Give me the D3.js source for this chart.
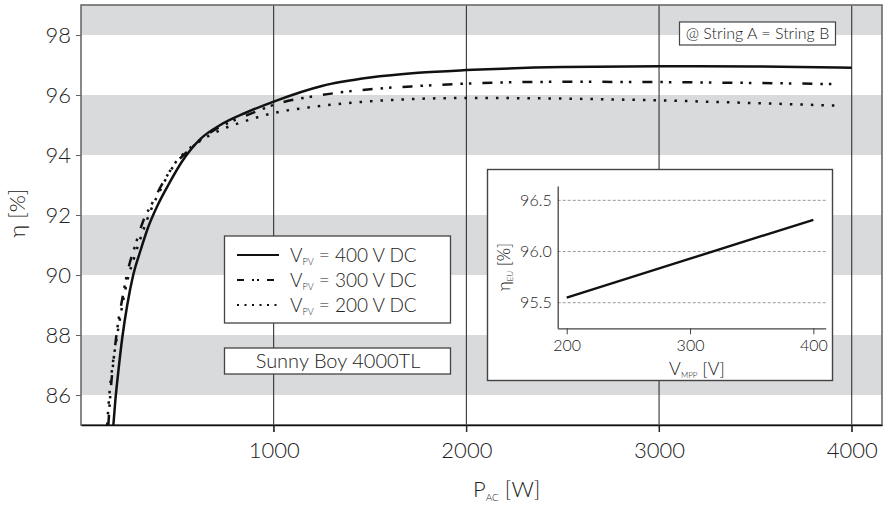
<!DOCTYPE html>
<html>
<head>
<meta charset="utf-8">
<script src="https://cdn.jsdelivr.net/npm/d3@7"></script>
<style>
  body { margin: 0; background: #fff; }
  text { font-family: Lato, "Open Sans", sans-serif; font-weight: 300; fill: #222; white-space: pre; }
</style>
</head>
<body>
<div id="chart"></div>
<script>
// main chart data, P_AC in W, efficiency in %
const pac400 = [168, 178, 194, 214, 240, 271, 308, 349, 396, 453, 526, 619, 723, 852, 1000, 1250, 1500, 1750, 2000, 2500, 3000, 3500, 4000];
const eta400 = [85.0, 85.8, 86.8, 87.9, 89.0, 90.0, 90.8, 91.6, 92.3, 93.0, 93.8, 94.53, 95.0, 95.4, 95.78, 96.3, 96.58, 96.74, 96.83, 96.93, 96.96, 96.95, 96.91];

const pac300 = [142, 152, 168, 188, 214, 245, 282, 323, 370, 427, 489, 567, 660, 764, 878, 1000, 1250, 1500, 1750, 2000, 2500, 3000, 3500, 3950];
const eta300 = [85.0, 86.0, 87.1, 88.2, 89.2, 90.2, 91.0, 91.8, 92.4, 93.1, 93.7, 94.2, 94.7, 95.07, 95.37, 95.67, 96.0, 96.19, 96.3, 96.38, 96.44, 96.43, 96.4, 96.36];

const pac200 = [136, 147, 162, 183, 209, 240, 277, 318, 365, 417, 474, 541, 619, 723, 852, 1000, 1200, 1350, 1500, 1700, 2000, 2500, 3000, 3500, 3950];
const eta200 = [85.0, 86.0, 86.9, 87.8, 88.8, 89.8, 90.6, 91.4, 92.2, 92.9, 93.6, 94.1, 94.47, 94.83, 95.13, 95.4, 95.6, 95.71, 95.79, 95.86, 95.9, 95.88, 95.82, 95.73, 95.64];

const seriesNames = ['400', '300', '200'];
const xTicks = [1000, 2000, 3000, 4000];
const yTicks = [86, 88, 90, 92, 94, 96, 98];
const bandLo = [86, 90, 94, 98];
const bandHi = [88, 92, 96, 99];

// inset: euro efficiency over MPP voltage
const vMpp = [200, 300, 400];
const etaEu = [95.55, 95.93, 96.31];
const insetXTicks = [200, 300, 400];
const insetYTicks = [95.5, 96.0, 96.5];

const W = 888, H = 507;
const svg = d3.select('#chart').append('svg')
    .attr('width', W)
    .attr('height', H);

const x = d3.scaleLinear().domain([0, 4157]).range([81, 882]);
const y = d3.scaleLinear().domain([85, 99]).range([425, 5]);

// grey bands
svg.selectAll('.band')
    .data(bandLo)
    .enter()
    .append('rect')
    .attr('x', x(0))
    .attr('width', x.range()[1] - x(0))
    .attr('y', (d, i) => y(bandHi[i]))
    .attr('height', (d, i) => y(d) - y(bandHi[i]))
    .attr('fill', '#d9dadc');

// vertical grid lines, running a bit below the axis
svg.selectAll('.vgrid')
    .data(xTicks)
    .enter()
    .append('line')
    .attr('x1', d => x(d))
    .attr('x2', d => x(d))
    .attr('y1', y(99))
    .attr('y2', y(85) + 7)
    .attr('stroke', '#222')
    .attr('stroke-width', 1);

// frame
svg.append('rect')
    .attr('x', x(0))
    .attr('y', y(99))
    .attr('width', x.range()[1] - x(0))
    .attr('height', y(85) - y(99))
    .attr('fill', 'none')
    .attr('stroke', '#6a6a6a')
    .attr('stroke-width', 1.6);

// Y axis
const yAxis = svg.append('g')
    .attr('transform', `translate(${x(0)},0)`)
    .call(d3.axisLeft(y).tickValues(yTicks).tickSize(5).tickPadding(5).tickSizeOuter(0));
yAxis.select('.domain').remove();
yAxis.selectAll('line').attr('stroke', '#666');
yAxis.selectAll('text').style('font-size', '22px').attr('fill', '#222');

// X axis
const xAxis = svg.append('g')
    .attr('transform', `translate(0,${y(85)})`)
    .call(d3.axisBottom(x).tickValues(xTicks).tickFormat(d3.format('d')).tickSize(7).tickPadding(10).tickSizeOuter(0));
xAxis.select('.domain').attr('stroke', '#111').attr('stroke-width', 1.6);
xAxis.selectAll('line').attr('stroke', '#222');
xAxis.selectAll('text').style('font-size', '22px').attr('fill', '#222');

// axis titles
svg.append('text')
    .attr('transform', 'translate(25,213) rotate(-90)')
    .attr('text-anchor', 'middle')
    .style('font-size', '22px')
    .text('η [%]');

const xTitle = svg.append('text')
    .attr('x', 473)
    .attr('y', 497)
    .style('font-size', '22px');
xTitle.append('tspan').text('P');
xTitle.append('tspan').attr('dy', 4).style('font-size', '10px').text('AC');
xTitle.append('tspan').attr('dy', -4).text(' [W]');

// curves
const styles = {
    '400': {dash: null},
    '300': {dash: '10,8,2.5,6,2.5,11'},
    '200': {dash: '2.5,8'}
};
const seriesData = {
    '400': pac400.map((p, i) => [p, eta400[i]]),
    '300': pac300.map((p, i) => [p, eta300[i]]),
    '200': pac200.map((p, i) => [p, eta200[i]])
};

svg.append('clipPath')
    .attr('id', 'plotclip')
    .append('rect')
    .attr('x', x(0))
    .attr('y', y(99))
    .attr('width', x.range()[1] - x(0))
    .attr('height', y(85) - y(99));

const line = d3.line()
    .x(d => x(d[0]))
    .y(d => y(d[1]))
    .curve(d3.curveMonotoneX);

svg.append('g')
    .attr('clip-path', 'url(#plotclip)')
    .selectAll('path')
    .data(seriesNames)
    .enter()
    .append('path')
    .attr('d', d => line(seriesData[d]))
    .attr('fill', 'none')
    .attr('stroke', '#111')
    .attr('stroke-width', 2.5)
    .attr('stroke-dasharray', d => styles[d].dash);

// legend
svg.append('rect')
    .attr('x', 224.5).attr('y', 236)
    .attr('width', 226).attr('height', 87)
    .attr('fill', '#fff')
    .attr('stroke', '#444')
    .attr('stroke-width', 1.3);

const legendDash = {'400': null, '300': '7,8,2,3,2,8', '200': '2,5.5'};
seriesNames.forEach((s, i) => {
    const ly = 255 + i * 25;
    svg.append('line')
        .attr('x1', 237).attr('x2', 279)
        .attr('y1', ly).attr('y2', ly)
        .attr('stroke', '#111')
        .attr('stroke-width', 2.2)
        .attr('stroke-dasharray', legendDash[s]);
    const t = svg.append('text')
        .attr('x', 290)
        .attr('y', ly + 6.8)
        .style('font-size', '19px');
    t.append('tspan').text('V');
    t.append('tspan').attr('dy', 3).style('font-size', '9px').text('PV');
    t.append('tspan').attr('dy', -3).text(` = ${s} V DC`);
});

// model label
svg.append('rect')
    .attr('x', 224.5).attr('y', 348)
    .attr('width', 226).attr('height', 26)
    .attr('fill', '#fff')
    .attr('stroke', '#444')
    .attr('stroke-width', 1.3);
svg.append('text')
    .attr('x', 338)
    .attr('y', 367.5)
    .attr('text-anchor', 'middle')
    .style('font-size', '20px')
    .text('Sunny Boy 4000TL');

// string note
svg.append('rect')
    .attr('x', 679.5).attr('y', 22)
    .attr('width', 156).attr('height', 23)
    .attr('fill', '#fff')
    .attr('stroke', '#444')
    .attr('stroke-width', 1.2);
svg.append('text')
    .attr('x', 757.5)
    .attr('y', 39)
    .attr('text-anchor', 'middle')
    .style('font-size', '16px')
    .text('@ String A = String B');

// inset
svg.append('rect')
    .attr('x', 487.5).attr('y', 169.5)
    .attr('width', 345).attr('height', 211)
    .attr('fill', '#fff')
    .attr('stroke', '#444')
    .attr('stroke-width', 1.4);

const ix = d3.scaleLinear().domain([192.7, 410]).range([557.7, 825.7]);
const iy = d3.scaleLinear().domain([95.25, 96.64]).range([328.3, 186]);

svg.selectAll('.igrid')
    .data(insetYTicks)
    .enter()
    .append('line')
    .attr('x1', ix.range()[0])
    .attr('x2', ix.range()[1])
    .attr('y1', d => iy(d))
    .attr('y2', d => iy(d))
    .attr('stroke', '#808080')
    .attr('stroke-width', 0.8)
    .attr('stroke-dasharray', '3,2');

const iyAxis = svg.append('g')
    .attr('transform', `translate(${ix.range()[0]},0)`)
    .call(d3.axisLeft(iy).tickValues(insetYTicks).tickFormat(d3.format('.1f')).tickSize(0).tickPadding(6).tickSizeOuter(0));
iyAxis.select('.domain').attr('stroke', '#444').attr('stroke-width', 1.3);
iyAxis.selectAll('text').style('font-size', '16px').attr('fill', '#222');

const ixAxis = svg.append('g')
    .attr('transform', `translate(0,${iy.range()[0]})`)
    .call(d3.axisBottom(ix).tickValues(insetXTicks).tickSize(6).tickPadding(5).tickSizeOuter(0));
ixAxis.select('.domain').attr('stroke', '#444').attr('stroke-width', 1.3);
ixAxis.selectAll('line').attr('stroke', '#444');
ixAxis.selectAll('text').style('font-size', '16px').attr('fill', '#222');

svg.append('path')
    .datum(vMpp.map((v, i) => [v, etaEu[i]]))
    .attr('d', d3.line().x(d => ix(d[0])).y(d => iy(d[1])))
    .attr('fill', 'none')
    .attr('stroke', '#111')
    .attr('stroke-width', 2.4);

const ixTitle = svg.append('text')
    .attr('x', 697)
    .attr('y', 375)
    .attr('text-anchor', 'middle')
    .style('font-size', '18px');
ixTitle.append('tspan').text('V');
ixTitle.append('tspan').attr('dy', 3).style('font-size', '8px').text('MPP');
ixTitle.append('tspan').attr('dy', -3).text(' [V]');

const iyTitle = svg.append('text')
    .attr('transform', 'translate(510,267) rotate(-90)')
    .attr('text-anchor', 'middle')
    .style('font-size', '17px');
iyTitle.append('tspan').text('η');
iyTitle.append('tspan').attr('dy', 3).style('font-size', '8px').text('EU');
iyTitle.append('tspan').attr('dy', -3).text(' [%]');
</script>
</body>
</html>
